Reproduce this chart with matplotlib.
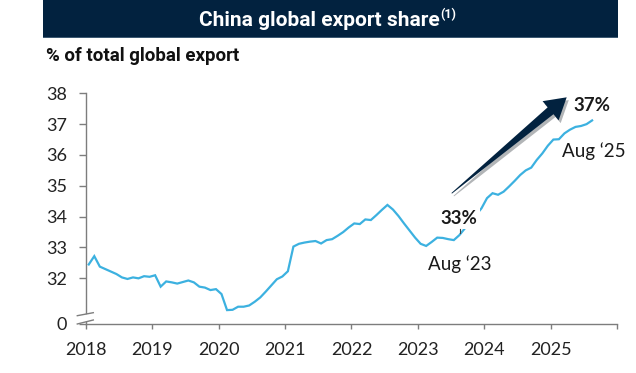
import matplotlib
matplotlib.use("Agg")
import matplotlib.pyplot as plt
import matplotlib.patheffects as pe
from matplotlib import font_manager
from matplotlib.patches import Rectangle, Polygon
import numpy as np

# monthly share of global exports, Jan 2018 .. Aug 2025 (%)
start_year = 2018
share = [
    32.45, 32.72, 32.38, 32.30, 32.22, 32.14, 32.03, 31.98, 32.03, 32.00, 32.07, 32.05,
    32.10, 31.73, 31.90, 31.87, 31.83, 31.88, 31.93, 31.87, 31.73, 31.70, 31.62, 31.65,
    31.49, 30.97, 30.98, 31.08, 31.08, 31.12, 31.24, 31.38, 31.57, 31.77, 31.97, 32.06,
    32.23, 33.03, 33.12, 33.16, 33.19, 33.21, 33.13, 33.24, 33.27, 33.38, 33.50, 33.65,
    33.78, 33.76, 33.91, 33.89, 34.05, 34.22, 34.38, 34.23, 34.02, 33.78, 33.55, 33.32,
    33.12, 33.05, 33.18, 33.32, 33.31, 33.27, 33.24, 33.40, 33.62, 33.85, 34.05, 34.27,
    34.60, 34.76, 34.71, 34.81, 34.98, 35.16, 35.35, 35.50, 35.59, 35.84, 36.05, 36.30,
    36.50, 36.51, 36.70, 36.82, 36.91, 36.94, 37.00, 37.12,
]
year_ticks = [2018, 2019, 2020, 2021, 2022, 2023, 2024, 2025, 2026]
year_labels = ["2018", "2019", "2020", "2021", "2022", "2023", "2024", "2025", ""]
y_bottom = 30.52          # where the broken axis shows "0"
y_ticks = [y_bottom, 32, 33, 34, 35, 36, 37, 38]
y_labels = ["0", "32", "33", "34", "35", "36", "37", "38"]

navy = "#02223f"
blue = "#3cb1e0"
grey = "#7d7d7d"

names = {f.name for f in font_manager.fontManager.ttflist}
head_font = "Liberation Sans Narrow" if "Liberation Sans Narrow" in names else "Roboto"
body_font = "Lato"

W, H = 636.0, 373.0
x = start_year + (np.arange(len(share)) + 0.5) / 12

fig = plt.figure(figsize=(6.36, 3.73), dpi=100)
ax = fig.add_axes([0.1352, 0.1314, 0.8349, 0.6185])

ax.plot(x, share, color=blue, lw=1.6, zorder=3, solid_joinstyle="miter")

ax.set_xlim(2018, 2026)
ax.set_ylim(y_bottom, 38)
ax.set_xticks(year_ticks)
ax.set_xticklabels(year_labels, fontfamily=body_font, fontsize=13)
ax.set_yticks(y_ticks)
ax.set_yticklabels(y_labels, fontfamily=body_font, fontsize=13)
for s in ["top", "right"]:
    ax.spines[s].set_visible(False)
for s in ["left", "bottom"]:
    ax.spines[s].set_color(grey)
    ax.spines[s].set_linewidth(1.0)
ax.tick_params(axis="y", length=4.8, width=1.0, color=grey, pad=9, labelcolor="#222222")
ax.tick_params(axis="x", length=3.8, width=1.0, color=grey, pad=9, labelcolor="#222222")

# axis break marks
aw, ah = 531.0, 230.7
x0, x1 = -8.7 / aw, 7.3 / aw
gap = Polygon([[x0, 0.3 / ah], [x1, 4.3 / ah], [x1, 11.0 / ah], [x0, 8.0 / ah]],
              closed=True, transform=ax.transAxes, fc="white", ec="none",
              clip_on=False, zorder=5)
ax.add_patch(gap)
for ya, yb in [(8.3, 11.3), (0.0, 4.0)]:
    ax.plot([x0, x1], [ya / ah, yb / ah], transform=ax.transAxes, color=grey,
            lw=1.0, clip_on=False, zorder=6)

# annotations
ax.text(2023.617, 33.955, "33%", ha="center", va="center", fontfamily=body_font,
        fontsize=13.5, fontweight="bold", color="#1a1a1a", zorder=4,
        bbox=dict(boxstyle="square,pad=0.15", fc="white", ec="none"))
ax.plot([2023.63, 2023.63], [33.47, 33.60], color="#444444", lw=0.8, zorder=4)
ax.text(2023.63, 32.46, "Aug \u201823", ha="center", va="center", fontfamily=body_font,
        fontsize=13.5, color="#1a1a1a")
ax.text(2025.628, 37.62, "37%", ha="center", va="center", fontfamily=body_font,
        fontsize=13.5, fontweight="bold", color="#1a1a1a", clip_on=False)
ax.text(2025.651, 36.13, "Aug \u201825", ha="center", va="center", fontfamily=body_font,
        fontsize=13.5, color="#1a1a1a", clip_on=False)

# tapered trend arrow (pixel geometry, pointed tail)
tail = np.array([451.7, 193.3])
tip = np.array([566.7, 97.3])
u = (tip - tail) / np.hypot(*(tip - tail))
n = np.array([-u[1], u[0]])
base = tip - 21 * u
pts = [tail + 0.4 * n, base + 4.5 * n, base + 12.5 * n, tip,
       base - 12.5 * n, base - 4.5 * n, tail - 0.4 * n]
pts = [(p[0] / W, 1 - p[1] / H) for p in pts]
arrow = Polygon(pts, closed=True, transform=fig.transFigure, fc=navy, ec="none",
                zorder=5,
                path_effects=[pe.SimplePatchShadow(offset=(1.5, -2), alpha=0.3), pe.Normal()])
fig.patches.append(arrow)

# title band
fig.patches.append(Rectangle((43 / W, 1 - 38 / H), 575 / W, 38 / H,
                             transform=fig.transFigure, fc=navy, ec="none"))
fig.patches.append(Rectangle((43 / W, 1 - 38 / H), 575 / W, 1.2 / H,
                             transform=fig.transFigure, fc="#3d5a73", ec="none"))
title = fig.text(319 / W, 1 - 20 / H, "China global export share", ha="center",
                 va="center", color="white", fontfamily=head_font, fontsize=15,
                 fontweight="bold")
fig.canvas.draw()
bb = title.get_window_extent()
fig.text((bb.x1 + 1) / W, 1 - 15 / H, "(1)", ha="left", va="center",
         color="white", fontfamily=head_font, fontsize=9, fontweight="bold")

fig.text(46 / W, 1 - 56 / H, "% of total global export", ha="left", va="center",
         color="#111111", fontfamily=head_font, fontsize=13.5, fontweight="bold")

fig.savefig("out.png", dpi=100)
